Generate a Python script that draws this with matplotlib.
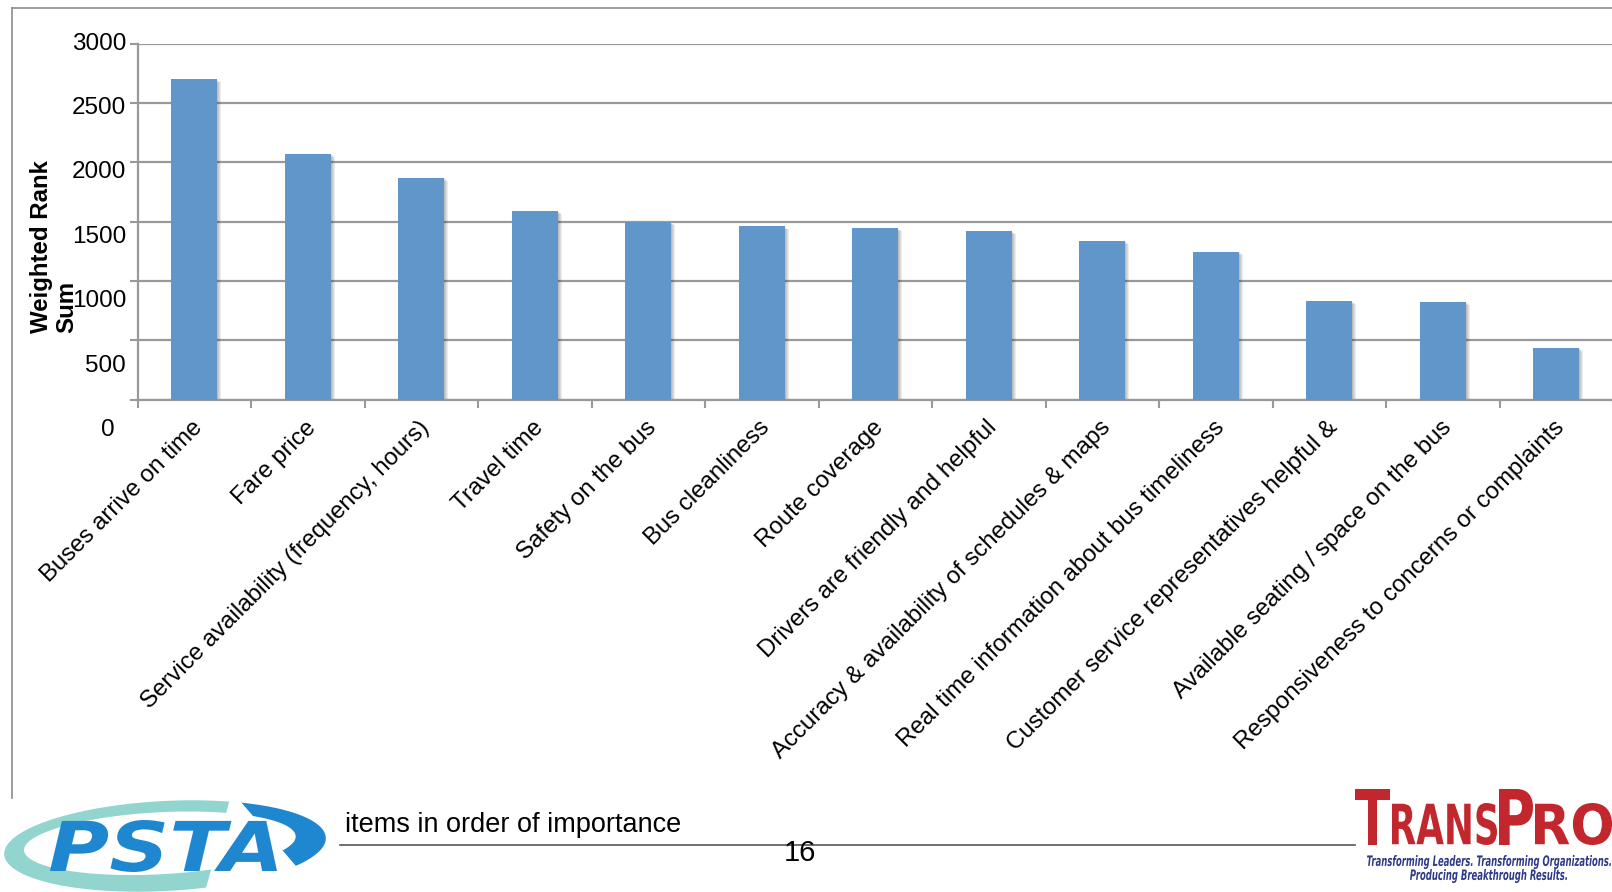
import numpy as np
import matplotlib
matplotlib.use("Agg")
import matplotlib.pyplot as plt
from matplotlib.path import Path
from matplotlib.patches import PathPatch, Polygon
from matplotlib.textpath import TextPath
from matplotlib.font_manager import FontProperties
from matplotlib.transforms import Affine2D, ScaledTranslation

plt.rcParams["font.family"] = ["Liberation Sans", "DejaVu Sans"]

categories = [
    "Buses arrive on time",
    "Fare price",
    "Service availability (frequency, hours)",
    "Travel time",
    "Safety on the bus",
    "Bus cleanliness",
    "Route coverage",
    "Drivers are friendly and helpful",
    "Accuracy & availability of schedules & maps",
    "Real time information about bus timeliness",
    "Customer service representatives helpful &",
    "Available seating / space on the bus",
    "Responsiveness to concerns or complaints",
]
rank_sum = [2700, 2070, 1870, 1590, 1495, 1460, 1445, 1420, 1338, 1246, 830, 824, 437]
y_ticks = [0, 500, 1000, 1500, 2000, 2500, 3000]
y_label_lines = ["Weighted Rank", "Sum"]
footer_note = "items in order of importance"
page_number = "16"

W, H, DPI = 1612, 892, 100
BAR_BLUE = "#6096c9"
GRID = "#999999"

fig = plt.figure(figsize=(W / DPI, H / DPI), dpi=DPI)


def px(dx, dy):
    return ScaledTranslation(dx / DPI, dy / DPI, fig.dpi_scale_trans)


def px_box(left, top, right, bottom):
    return [left / W, 1 - bottom / H, (right - left) / W, (bottom - top) / H]


# slide layer, pixel coordinates with y pointing down
page = fig.add_axes([0, 0, 1, 1], zorder=0)
page.set_xlim(0, W)
page.set_ylim(H, 0)
page.axis("off")

ax = fig.add_axes(px_box(137.5, 43.5, 1613, 399.5), zorder=1)
ax.patch.set_visible(False)
x = np.arange(len(categories))

# soft drop shadow under the bars
for k in range(1, 5):
    shadow = ax.bar(x, rank_sum, width=0.405, color="#303030", alpha=0.09, zorder=2)
    for p in shadow:
        p.set_transform(ax.transData + px(k, -k * 0.8))
ax.bar(x, rank_sum, width=0.405, color=BAR_BLUE, zorder=3)

ax.set_xlim(-0.5, len(categories) - 0.5)
ax.set_ylim(0, 3000)
ax.set_yticks(y_ticks)
ax.yaxis.grid(True, color=GRID, lw=1.6)
ax.set_axisbelow(True)
for side in ("top", "right"):
    ax.spines[side].set_visible(False)
for side in ("left", "bottom"):
    ax.spines[side].set_color(GRID)
    ax.spines[side].set_linewidth(1.6)

ax.tick_params(axis="y", length=5.5, width=1.5, color=GRID, labelleft=False)
ax.set_xticks([])
ax.set_xticks(np.arange(-0.5, len(categories), 1), minor=True)
ax.tick_params(axis="x", which="minor", length=6, width=1.5, color=GRID)

# category names, slanted under each bar
for xi, name in zip(x, categories):
    ax.text(xi, 0, name, transform=ax.get_xaxis_transform() + px(5, -25),
            rotation=45, rotation_mode="anchor", ha="right", va="center",
            fontsize=17.3)

# value labels on the y axis drift downward a little from the gridlines
for i, v in enumerate(y_ticks[::-1]):
    shift_x = -11.5 - (11 if v == 0 else 0)
    ax.text(0, v, str(v), transform=ax.get_yaxis_transform() + px(shift_x, -5.1 * i),
            ha="right", va="center", fontsize=17.5)

# axis title, two lines starting from the same baseline point
for line, lx in zip(y_label_lines, [42, 67]):
    page.text(lx, 333, line, rotation=90, ha="center", va="bottom",
              fontsize=17.3, fontweight="bold")

# slide frame
page.plot([12, W], [8, 8], color="#8c8c8c", lw=1.2)
page.plot([12, 12], [8, 798], color="#8c8c8c", lw=1.2)

# footer
page.text(345, 832, footer_note, fontsize=19.5, va="baseline", ha="left")
page.plot([340, 1355], [845, 845], color="#555555", lw=1.2)
page.text(800, 853, page_number, ha="center", va="center", fontsize=21)


def text_in_box(s, fp, left, top, right, bottom, color):
    tp = TextPath((0, 0), s, size=1, prop=fp)
    ext = tp.get_extents()
    tr = (Affine2D().translate(-ext.x0, -ext.y0)
          .scale((right - left) / ext.width, -(bottom - top) / ext.height)
          .translate(left, bottom))
    page.add_patch(PathPatch(tr.transform_path(tp), facecolor=color, lw=0))


def ellipse(cx, cy, w, h, n=240):
    t = np.linspace(0, 2 * np.pi, n)
    return np.column_stack([cx + w / 2 * np.cos(t), cy + h / 2 * np.sin(t)])


# PSTA logo
outer = ellipse(165, 846, 322, 90)
inner = ellipse(160, 843, 272, 62)[::-1]
codes = ([Path.MOVETO] + [Path.LINETO] * (len(outer) - 2) + [Path.CLOSEPOLY]) * 2
ring = Path(np.vstack([outer, inner]), codes)
ring = Affine2D().rotate_deg_around(165, 846, -3).transform_path(ring)

teal = PathPatch(ring, facecolor="#92d5cf", lw=0)
page.add_patch(teal)
teal.set_clip_path(Polygon([(0, 780), (235, 780), (205, 892), (0, 892)],
                           transform=page.transData))
blue = PathPatch(ring, facecolor="#1f87cf", lw=0)
page.add_patch(blue)
blue.set_clip_path(Polygon([(222, 780), (340, 780), (340, 852), (296, 866)],
                           transform=page.transData))

bold_it = FontProperties(family="DejaVu Sans", weight="bold", style="italic")
text_in_box("PSTA", bold_it, 50, 820, 277, 872, "#1f87cf")

# TransPro logo
heavy = FontProperties(family="DejaVu Sans", weight="bold")
red = "#c1272d"
text_in_box("T", heavy, 1355, 789, 1390, 845, red)
text_in_box("RANS", heavy, 1392, 803, 1497, 845, red)
text_in_box("P", heavy, 1499, 789, 1533, 845, red)
text_in_box("RO", heavy, 1535, 803, 1612, 845, red)
navy = "#2e3a87"
text_in_box("Transforming Leaders. Transforming Organizations.", bold_it,
            1367, 855, 1611, 869, navy)
text_in_box("Producing Breakthrough Results.", bold_it, 1410, 869, 1567, 883, navy)

fig.savefig("out.png", dpi=DPI)
